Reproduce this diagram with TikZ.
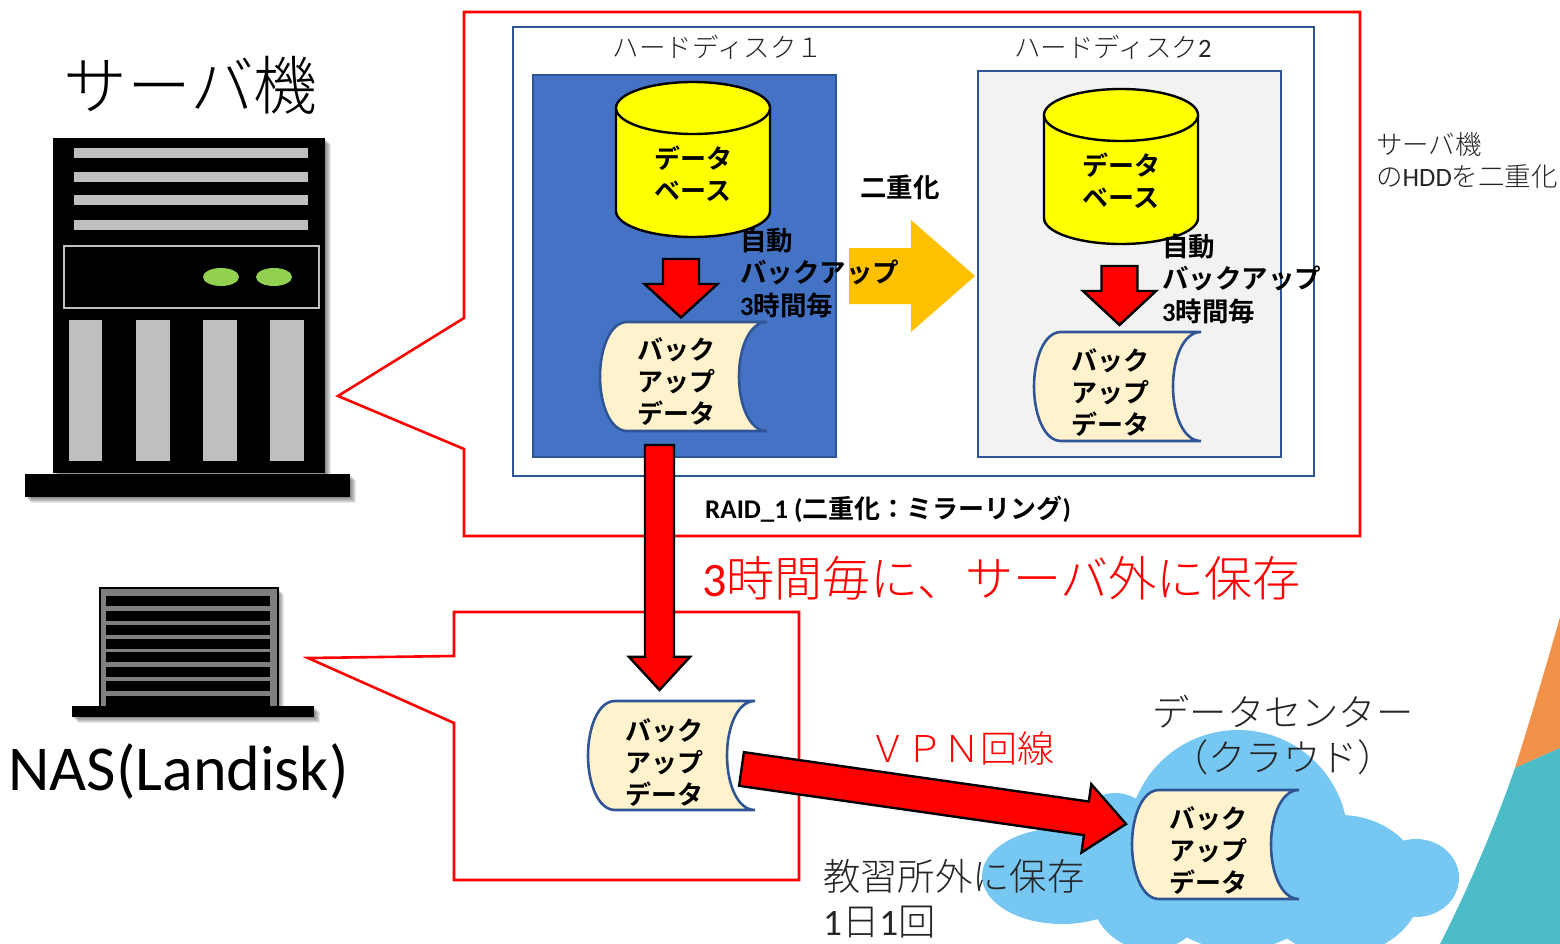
\documentclass[tikz,border=0pt]{standalone}
\usepackage{fontspec}
\usetikzlibrary{calc}
\setmainfont{Noto Sans CJK JP Light}
\newfontfamily\jpmed{Noto Sans CJK JP Bold}
\newfontfamily\latf{Carlito}
\definecolor{hddblue}{HTML}{4472C4}
\definecolor{edgeblue}{HTML}{2F5597}
\definecolor{scrollfill}{HTML}{FFF2CC}
\definecolor{cloudblue}{HTML}{76C7F2}
\definecolor{barorange}{HTML}{FFC000}
\definecolor{bargrey}{HTML}{BFBFBF}
\definecolor{ledgreen}{HTML}{92D050}
\definecolor{nasgrey}{HTML}{7F7F7F}
\definecolor{txtgrey}{HTML}{262626}
\definecolor{sweeporange}{HTML}{F2914A}
\definecolor{sweepteal}{HTML}{4BBCC8}
\definecolor{dbyellow}{HTML}{FFFF00}
\definecolor{hddlight}{HTML}{F2F2F2}
\tikzset{
  x=1pt,y=-1pt,
  callout/.style={draw=red,line width=2.6pt,line join=miter},
  hddbox/.style={draw=edgeblue,line width=2.8pt,inner sep=0pt,outer sep=0pt,anchor=north west},
  cyl/.style={draw=black,line width=2.4pt,fill=dbyellow},
  scrollshape/.style={draw=edgeblue,line width=2.6pt,fill=scrollfill},
  redarrow/.style={draw=black,line width=2.4pt,fill=red,line join=miter},
  bold26/.style={inner sep=0pt,font=\jpmed\fontsize{26.5pt}{32.5pt}\selectfont,align=left},
  centre26/.style={inner sep=0pt,font=\jpmed\fontsize{26pt}{32pt}\selectfont,align=center},
  plain25/.style={inner sep=0pt,text=txtgrey,font=\fontsize{26.5pt}{32pt}\selectfont},
  big37/.style={inner sep=0pt,text=txtgrey,font=\fontsize{37.3pt}{45pt}\selectfont},
}
% block arrow: [style]{from}{to}{fraction of head base}{half shaft}{half head}
\newcommand{\blockarrow}[6][]{%
  \begin{scope}
  \coordinate (hb) at ($(#2)!#4!(#3)$);
  \path[#1] ($(#2)!#5!90:(#3)$) -- ($(hb)!#5!90:(#3)$) -- ($(hb)!#6!90:(#3)$)
    -- (#3) -- ($(hb)!#6!-90:(#3)$) -- ($(hb)!#5!-90:(#3)$) -- ($(#2)!#5!-90:(#3)$) -- cycle;
  \end{scope}}
% scroll: {name}{left}{top}{text y}
\newcommand{\scrollbox}[4]{%
  \begin{scope}[shift={(#2,#3)}]
  \path[scrollshape] (167,0) -- (27,0) .. controls (10,0) and (0,27) .. (0,54.5)
    .. controls (0,82) and (10,109) .. (27,109) -- (167,109)
    .. controls (149,109) and (139,82) .. (139,54.5)
    .. controls (139,27) and (149,0) .. (167,0) -- cycle;
  \node[centre26] (#1) at (76,#4) {バック\\アップ\\データ};
  \end{scope}}
% cylinder: {name}{left}{top}
\newcommand{\dbcyl}[3]{%
  \begin{scope}[shift={(#2,#3)}]
  \path[cyl] (0,26) -- (0,129) .. controls (0,143.4) and (34.5,155) .. (77,155)
     .. controls (119.5,155) and (154,143.4) .. (154,129) -- (154,26)
     .. controls (154,11.6) and (119.5,0) .. (77,0)
     .. controls (34.5,0) and (0,11.6) .. (0,26) -- cycle;
  \path[cyl] (0,26) .. controls (0,40.4) and (34.5,52) .. (77,52)
     .. controls (119.5,52) and (154,40.4) .. (154,26);
  \node[centre26] (#1) at (77,92) {データ\\ベース};
  \end{scope}}
% soft shadow
\newcommand{\softshadow}[4]{%
  \foreach \d in {1,2,3,4,5,6}{\fill[black,opacity=.09] ({#1+\d},{#2+\d}) rectangle ({#3+\d},{#4+\d});}}
\begin{document}
\begin{tikzpicture}
\useasboundingbox (0,0) rectangle (1560,944);
\fill[white] (0,0) rectangle (1560,944);
\begin{scope}
\clip (0,0) rectangle (1560,944);
% decorative sweep at the lower right
\fill[sweeporange] (1560,617) .. controls (1545,670) and (1530,720) .. (1515,768) -- (1560,748) -- cycle;
\fill[sweepteal] (1515,768) -- (1560,748) -- (1560,944) -- (1440,944) .. controls (1470,885) and (1495,825) .. (1515,768) -- cycle;
% cloud
\fill[cloudblue]
  (1238,840) circle[radius=110]
  (1340,885) ellipse[x radius=82,y radius=70]
  (1416,878) ellipse[x radius=43,y radius=39]
  (1062,876) ellipse[x radius=80,y radius=48]
  (1115,835) circle[radius=42]
  (1150,890) circle[radius=60]
  (1228,877) circle[radius=62];
% server icon
\softshadow{53}{138}{325}{473}
\softshadow{25}{474}{350}{497}
\fill[black] (53,138) rectangle (325,473);
\fill[black] (25,474) rectangle (350,497);
\foreach \yy in {148,172,195.5,219.5}{\fill[bargrey] (74,\yy) rectangle (308,{\yy+10});}
\draw[bargrey,line width=2pt] (64,245.5) rectangle (319,308);
\fill[ledgreen] (221,277) ellipse[x radius=18,y radius=9];
\fill[ledgreen] (274,277) ellipse[x radius=18,y radius=9];
\foreach \xx in {68.5,136,203,270}{\fill[bargrey] (\xx,320) rectangle ({\xx+33.5},461);}
\node[inner sep=0pt,font=\fontsize{63.8pt}{70pt}\selectfont] (srvtitle) at (190.5,85) {サーバ機};
% NAS icon
\softshadow{100}{588}{278}{707}
\softshadow{72}{706}{314}{717}
\draw[black,line width=1.5pt,fill=nasgrey] (100,588) rectangle (278,707);
\foreach \yy in {596,610.7,625,639.3,652.3,667,681.3,695.7}{\fill[black] (106,\yy) rectangle (270,{\yy+10});}
\fill[black] (72,706) rectangle (314,717);
\node[inner sep=0pt,font=\latf\fontsize{64pt}{70pt}\selectfont] (nastitle) at (178.5,772) {NAS(Landisk)};
% callouts
\path[callout] (464,12) -- (1360,12) -- (1360,536) -- (464,536) -- (464,449) -- (338,396) -- (464,318) -- cycle;
\path[callout] (454,612) -- (799,612) -- (799,880) -- (454,880) -- (454,723) -- (308,658) -- (454,656) -- cycle;
% hdd frame and disks
\node[hddbox,fill=white,minimum width=801pt,minimum height=449pt] (raid) at (513,27) {};
\node[hddbox,fill=hddblue,minimum width=303pt,minimum height=382pt] (hddA) at (533,75) {};
\node[hddbox,fill=hddlight,minimum width=303pt,minimum height=386pt] (hddB) at (978,71) {};
\node[plain25] (hddAlabel) at (718,47) {ハードディスク１};
\node[plain25] (hddBlabel) at (1113,47) {ハードディスク{\latf 2}};
\dbcyl{dbA}{616}{82}
\dbcyl{dbB}{1044}{89}
\scrollbox{bkA}{600}{322}{60}
\scrollbox{bkB}{1034}{332}{61}
\scrollbox{bkC}{588}{701}{62}
\scrollbox{bkD}{1132}{790}{61}
% arrows
\coordinate (a1s) at (681,259); \coordinate (a1e) at (681,317.5);
\coordinate (a2s) at (1119.5,266); \coordinate (a2e) at (1119.5,325);
\coordinate (a3s) at (849,276); \coordinate (a3e) at (975,276);
\coordinate (a4s) at (659.5,445); \coordinate (a4e) at (659.5,690);
\coordinate (a5s) at (741.5,769); \coordinate (a5e) at (1126,824);
\blockarrow[redarrow]{a1s}{a1e}{.427}{18pt}{36.5pt}
\blockarrow[redarrow]{a2s}{a2e}{.424}{18pt}{36.5pt}
\blockarrow[fill=barorange]{a3s}{a3e}{.492}{28pt}{56pt}
\blockarrow[redarrow]{a4s}{a4e}{.865}{14.5pt}{30.5pt}
\blockarrow[redarrow]{a5s}{a5e}{.897}{17pt}{34.5pt}
% labels
\node[bold26,anchor=west] (dup) at (860,187) {二重化};
\node[bold26,anchor=west] (autoA) at (740,272.5) {自動\\バックアップ\\{\latf\bfseries 3}時間毎};
\node[bold26,anchor=west] (autoB) at (1162,278.5) {自動\\バックアップ\\{\latf\bfseries 3}時間毎};
\node[inner sep=0pt,anchor=west,font=\jpmed\fontsize{26pt}{30pt}\selectfont] (raidlabel) at (705,509) {{\latf\bfseries\fontsize{27pt}{30pt}\selectfont RAID\_1 (}二重化：ミラーリング{\latf\bfseries\fontsize{27pt}{30pt}\selectfont )}};
\node[inner sep=0pt,anchor=west,text=red,font=\fontsize{48pt}{55pt}\selectfont] (every3h) at (702,578) {{\latf 3}時間毎に、サーバ外に保存};
\node[plain25,anchor=west,align=left] (hddnote) at (1376,160.5) {サーバ機\\の{\latf HDD}を二重化};
\node[inner sep=0pt,text=red,font=\fontsize{37pt}{45pt}\selectfont] (vpn) at (962,748) {ＶＰＮ回線};
\node[big37,anchor=west] (offsite) at (823,876) {教習所外に保存};
\node[big37,anchor=west] (daily) at (823,922) {{\latf 1}日{\latf 1}回};
\node[big37] (dc) at (1283,712) {データセンター};
\node[big37] (cl) at (1283,757) {（クラウド）};
\end{scope}
\end{tikzpicture}
\end{document}
